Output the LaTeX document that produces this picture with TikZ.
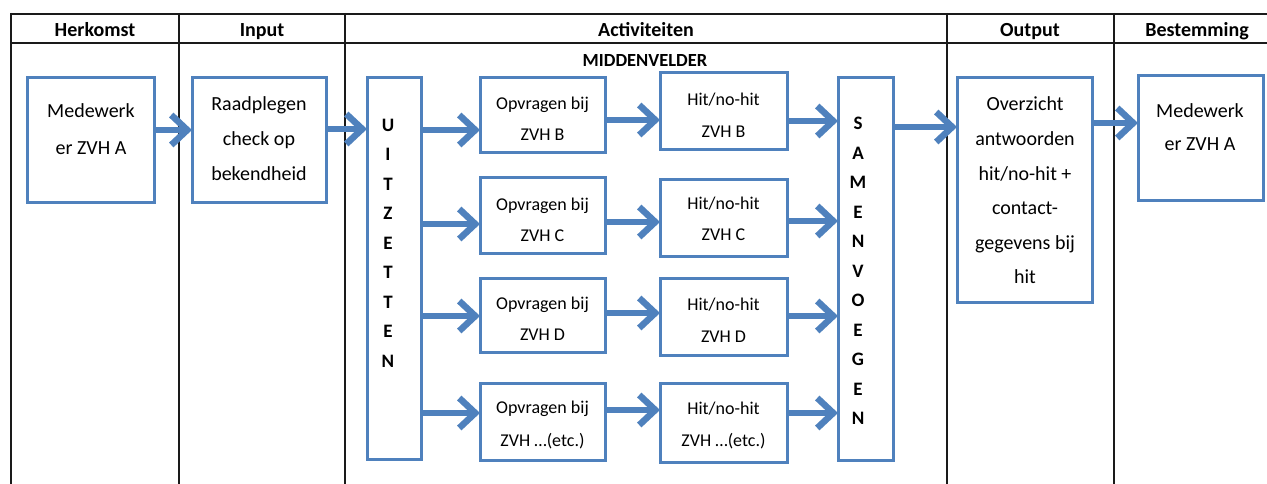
\documentclass[tikz,border=0pt]{standalone}
\usepackage{fontspec}
\setmainfont{Carlito}
\usetikzlibrary{arrows.meta}
\definecolor{bl}{HTML}{4F81BD}
\definecolor{ln}{HTML}{1A1A1A}
\begin{document}
\begin{tikzpicture}[x=1pt,y=-1pt,
  bx/.style={draw=bl, line width=3pt, inner sep=0pt, outer sep=0pt, rectangle},
  txt/.style={font=\fontsize{20}{36}\selectfont, align=center, inner sep=0pt},
  stxt/.style={font=\fontsize{18}{31}\selectfont, align=center, inner sep=0pt},
  vtxt/.style={font=\bfseries\fontsize{19}{29.5}\selectfont, align=center, inner sep=0pt},
  hdr/.style={font=\bfseries\fontsize{20}{22}\selectfont, inner sep=0pt, anchor=base},
  grid/.style={draw=ln, line width=1.8pt},
  arr/.style={draw=bl, line width=6.5pt, -{Straight Barb[length=16pt,width=30pt]}}]
\useasboundingbox (0,0) rectangle (1267,484);
% table
\draw[grid, line width=2.6pt] (11,14) -- (1267,14);
\draw[grid, line width=2.2pt] (11,43) -- (1267,43);
\foreach \xx in {11,179,345,947,1114} \draw[grid] (\xx,13) -- (\xx,484);
% headers
\node[hdr] (h1) at (95,36.5) {Herkomst};
\node[hdr] (h2) at (262,36.5) {Input};
\node[hdr] (h3) at (646,36.5) {Activiteiten};
\node[hdr] (h4) at (1030,36.5) {Output};
\node[hdr] (h5) at (1197,36.5) {Bestemming};
\node[hdr, font=\bfseries\fontsize{18.5}{22}\selectfont] (mv) at (645,67) {MIDDENVELDER};
% boxes
\node[bx, minimum width=127pt, minimum height=124pt] (mA) at (90.5,140) {};
\node[bx, minimum width=134pt, minimum height=124pt] (rp) at (259,140) {};
\node[bx, minimum width=54pt, minimum height=381pt] (uit) at (394,268.5) {};
\node[bx, minimum width=125pt, minimum height=75pt] (ob) at (542.5,115.5) {};
\node[bx, minimum width=125pt, minimum height=75pt] (oc) at (542.5,215.5) {};
\node[bx, minimum width=125pt, minimum height=74pt] (od) at (542.5,315) {};
\node[bx, minimum width=125pt, minimum height=77pt] (oe) at (542.5,421.5) {};
\node[bx, minimum width=127pt, minimum height=77pt] (hb) at (723.5,111.5) {};
\node[bx, minimum width=127pt, minimum height=76pt] (hc) at (723.5,218) {};
\node[bx, minimum width=127pt, minimum height=77pt] (hd) at (723.5,316.5) {};
\node[bx, minimum width=127pt, minimum height=79pt] (he) at (723.5,422.5) {};
\node[bx, minimum width=55pt, minimum height=382pt] (sam) at (865.5,269) {};
\node[bx, minimum width=135pt, minimum height=224pt] (ov) at (1024.5,190) {};
\node[bx, minimum width=125pt, minimum height=124pt] (mD) at (1200.5,138) {};
% texts
\node[txt, font=\fontsize{20}{37}\selectfont] (tA) at (91,129) {Medewerk\\er ZVH A};
\node[txt, font=\fontsize{20}{35}\selectfont] (tR) at (259,139) {Raadplegen\\check op\\bekendheid};
\node[vtxt] (tU) at (388,243) {U\\I\\T\\Z\\E\\T\\T\\E\\N};
\node[stxt] (tOB) at (542.5,119) {Opvragen bij\\ZVH B};
\node[stxt] (tOC) at (542.5,220) {Opvragen bij\\ZVH C};
\node[stxt] (tOD) at (542.5,319) {Opvragen bij\\ZVH D};
\node[stxt, font=\fontsize{18}{33}\selectfont] (tOE) at (542.5,424.5) {Opvragen bij\\ZVH \dots(etc.)};
\node[stxt, font=\fontsize{18}{32}\selectfont] (tHB) at (723.5,115) {Hit/no-hit\\ZVH B};
\node[stxt] (tHC) at (723.5,218.5) {Hit/no-hit\\ZVH C};
\node[stxt, font=\fontsize{18}{32}\selectfont] (tHD) at (723.5,320) {Hit/no-hit\\ZVH D};
\node[stxt, font=\fontsize{18}{32}\selectfont] (tHE) at (723.5,425) {Hit/no-hit\\ZVH \dots(etc.)};
\node[vtxt] (tS) at (858,271) {S\\A\\M\\E\\N\\V\\O\\E\\G\\E\\N};
\node[txt, font=\fontsize{20}{34.6}\selectfont] (tO) at (1025,190.5) {Overzicht\\antwoorden\\hit/no-hit +\\contact-\\gegevens bij\\hit};
\node[txt, font=\fontsize{20}{33}\selectfont] (tD) at (1200,127.5) {Medewerk\\er ZVH A};
% arrows
\draw[arr] (mA.east |- 0,130) -- (rp.west |- 0,130);
\draw[arr] (rp.east |- 0,129) -- (uit.west |- 0,129);
\draw[arr] (uit.east |- 0,130) -- (ob.west |- 0,130);
\draw[arr] (uit.east |- 0,224) -- (oc.west |- 0,224);
\draw[arr] (uit.east |- 0,316) -- (od.west |- 0,316);
\draw[arr] (uit.east |- 0,413) -- (oe.west |- 0,413);
\draw[arr] (ob.east |- 0,120) -- (hb.west |- 0,120);
\draw[arr] (oc.east |- 0,222) -- (hc.west |- 0,222);
\draw[arr] (od.east |- 0,313) -- (hd.west |- 0,313);
\draw[arr] (oe.east |- 0,410) -- (he.west |- 0,410);
\draw[arr] (hb.east |- 0,121) -- (sam.west |- 0,121);
\draw[arr] (hc.east |- 0,221) -- (sam.west |- 0,221);
\draw[arr] (hd.east |- 0,316) -- (sam.west |- 0,316);
\draw[arr] (he.east |- 0,413) -- (sam.west |- 0,413);
\draw[arr] (sam.east |- 0,127) -- (ov.west |- 0,127);
\draw[arr] (ov.east |- 0,123) -- (mD.west |- 0,123);
\end{tikzpicture}
\end{document}
